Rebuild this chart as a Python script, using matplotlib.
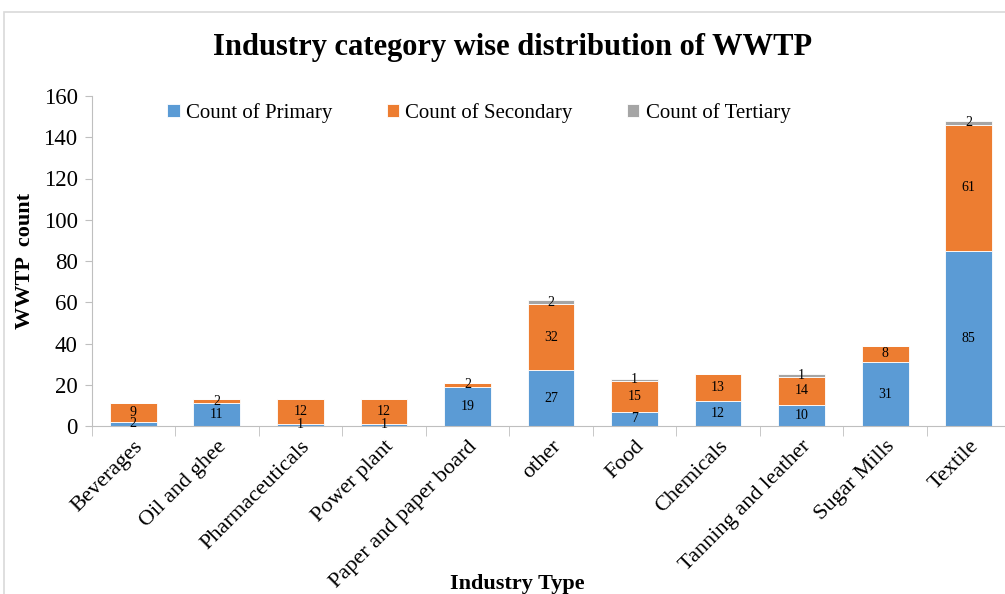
import numpy as np
import matplotlib.pyplot as plt
from matplotlib.patches import Rectangle

plt.rcParams['font.family'] = ['Liberation Serif', 'DejaVu Serif']

industries = ['Beverages', 'Oil and ghee', 'Pharmaceuticals', 'Power plant',
              'Paper and paper board', 'other', 'Food', 'Chemicals',
              'Tanning and leather', 'Sugar Mills', 'Textile']
primary = [2, 11, 1, 1, 19, 27, 7, 12, 10, 31, 85]
secondary = [9, 2, 12, 12, 2, 32, 15, 13, 14, 8, 61]
tertiary = [0, 0, 0, 0, 0, 2, 1, 0, 1, 0, 2]

series_names = ['Count of Primary', 'Count of Secondary', 'Count of Tertiary']
colors = ['#5B9BD5', '#ED7D31', '#A5A5A5']

W, H = 1005, 594
fig = plt.figure(figsize=(W / 100, H / 100), dpi=100)

# light outer frame of the chart area
fig.patches.append(Rectangle((4 / W, -0.05), 1.1, 1 - 12 / H + 0.05,
                             transform=fig.transFigure, fill=False,
                             edgecolor='#D9D9D9', linewidth=1.2))

x0, x1 = 91.5, 1010.5
y0, y1 = 426, 96
ax = fig.add_axes([x0 / W, 1 - y0 / H, (x1 - x0) / W, (y0 - y1) / H])

x = np.arange(len(industries))
bottom = np.zeros(len(industries))
for vals, name, c in zip([primary, secondary, tertiary], series_names, colors):
    vals = np.array(vals, dtype=float)
    bars = ax.bar(x, vals, 0.56, bottom=bottom, color=c, label=name,
                  edgecolor='white', linewidth=0.6)
    labels = [str(int(v)) if v > 0 else '' for v in vals]
    ax.bar_label(bars, labels=labels, label_type='center', fontsize=10)
    bottom += vals

ax.set_xlim(-0.5, len(industries) - 0.5)
ax.set_ylim(0, 160)
ax.set_yticks(np.arange(0, 161, 20))
ax.tick_params(axis='y', labelsize=16.5, length=5, color='#BFBFBF', pad=5)

ax.set_xticks(x)
ax.set_xticklabels(industries, rotation=45, ha='right', rotation_mode='anchor',
                   fontsize=16)
ax.tick_params(axis='x', length=0, pad=8)
ax.set_xticks(np.arange(-0.5, len(industries), 1), minor=True)
ax.tick_params(axis='x', which='minor', length=7, color='#BFBFBF')

for s in ['top', 'right']:
    ax.spines[s].set_visible(False)
for s in ['left', 'bottom']:
    ax.spines[s].set_color('#BFBFBF')

ax.set_ylabel('WWTP  count', fontsize=16, fontweight='bold', labelpad=6)
fig.text(517 / W, 1 - 584 / H, 'Industry Type', fontsize=16,
         fontweight='bold', ha='center', va='center')
fig.text(513 / W, 1 - 47 / H, 'Industry category wise distribution of WWTP',
         fontsize=22, fontweight='bold', ha='center', va='center')

ax.legend(loc='upper left', bbox_to_anchor=(0.062, 1.035), ncol=3, frameon=False,
          fontsize=15, handlelength=0.6, handleheight=0.6, handletextpad=0.3,
          columnspacing=2.6)

fig.savefig('out.png', dpi=100)
